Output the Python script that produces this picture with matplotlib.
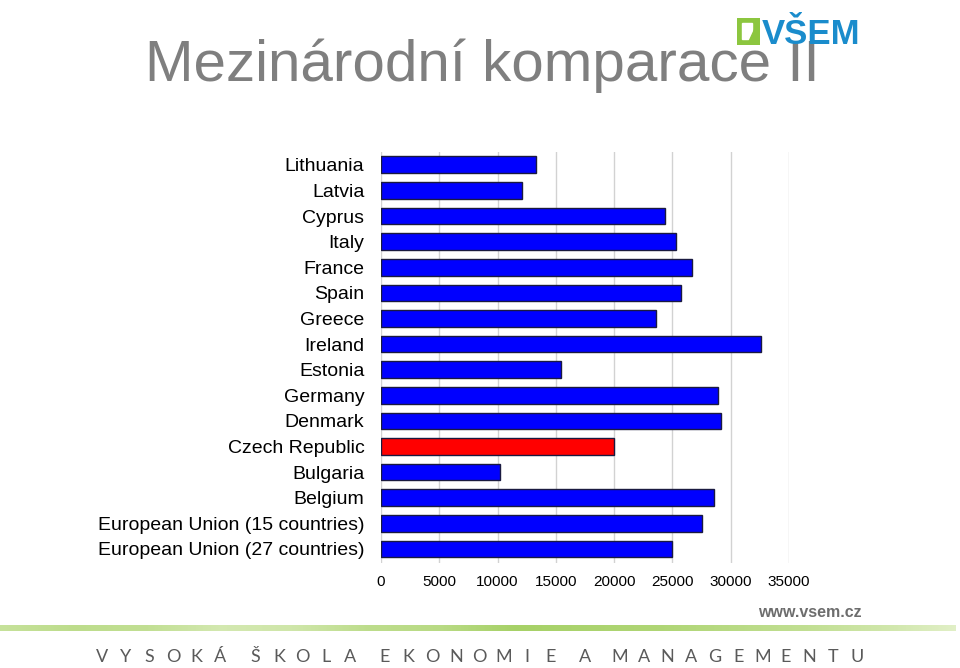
import matplotlib
matplotlib.use("Agg")
import matplotlib.pyplot as plt
import numpy as np
from matplotlib.patches import Rectangle, Polygon
from matplotlib.colors import LinearSegmentedColormap

plt.rcParams['font.family'] = ['Liberation Sans', 'DejaVu Sans']

countries = [
    "Lithuania", "Latvia", "Cyprus", "Italy", "France", "Spain", "Greece",
    "Ireland", "Estonia", "Germany", "Denmark", "Czech Republic", "Bulgaria",
    "Belgium", "European Union (15 countries)", "European Union (27 countries)",
]
values = [13300, 12100, 24400, 25300, 26700, 25700, 23600, 32600, 15400,
          28900, 29200, 20000, 10200, 28600, 27500, 25000]
highlight = "Czech Republic"
xticks = [0, 5000, 10000, 15000, 20000, 25000, 30000, 35000]
footer_words = ["VYSOKÁ", "ŠKOLA", "EKONOMIE", "A", "MANAGEMENTU"]

fig = plt.figure(figsize=(9.6, 6.68), dpi=100)
fig.patch.set_facecolor("white")

ax = fig.add_axes([381/960, 1-563/668, (789-381)/960, (563-152)/668])
colors = ["#ff0000" if c == highlight else "#0000ff" for c in countries]
y = np.arange(len(countries))
ax.barh(y, values, height=0.65, color=colors, edgecolor="#1a1a40", linewidth=1.0, zorder=3)
ax.set_ylim(len(countries) - 0.45, -0.5)
ax.set_xlim(0, 35000)
ax.set_yticks(y)
ax.set_yticklabels(countries, fontsize=14)
ax.set_xticks(xticks)
ax.set_xticklabels([str(t) for t in xticks], fontsize=11)
ax.tick_params(axis="both", length=0, colors="#000000")
ax.tick_params(axis="y", pad=12)
ax.tick_params(axis="x", pad=9)
ax.grid(axis="x", color="#d2d2d2", linewidth=1, zorder=0)
for s in ax.spines.values():
    s.set_visible(False)

# Title
fig.text(145/960, 1-81/668, "Mezinárodní komparace II", fontsize=42, color="#7f7f7f",
         ha="left", va="baseline")

# Logo
fig.text(762/960, 1-44/668, "VŠEM", fontsize=25, fontweight="bold", color="#1a8ccc",
         ha="left", va="baseline")
logo_ax = fig.add_axes([737/960, 1-45/668, 23/960, 27/668])
logo_ax.set_xlim(0, 1); logo_ax.set_ylim(0, 1); logo_ax.axis("off")
logo_ax.add_patch(Rectangle((0, 0), 1, 1, color="#8cc63f"))
logo_ax.add_patch(Rectangle((0.2, 0.22), 0.45, 0.58, color="white"))
logo_ax.add_patch(Polygon([[0.45, 0.0], [0.7, 0.0], [1.0, 0.55], [0.75, 0.55]], color="#8cc63f"))

# Footer
fig.text(862/960, 1-617/668, "www.vsem.cz", fontsize=11.5, fontweight="bold", color="#6d6d6d",
         ha="right", va="baseline")
grad_ax = fig.add_axes([0, 1-631/668, 0.995, 6/668])
grad_ax.axis("off")
g = np.array([0.45, 0.55, 0.5, 0.3, 0.35, 0.55, 0.6, 0.8, 0.75, 0.7, 0.6, 0.5, 0.35, 0.15])
cm = LinearSegmentedColormap.from_list("g", ["#eef6dc", "#95c84a"])
xs = np.linspace(0, 1, 400)
vals = np.interp(xs, np.linspace(0, 1, len(g)), g)
grad_ax.imshow(vals[None, :], aspect="auto", cmap=cm, vmin=0, vmax=1, extent=[0, 1, 0, 1])

i = 0
for w_idx, word in enumerate(footer_words):
    for ch in word:
        xpx = 102 + 23.7 * i + 11 * w_idx
        fig.text(xpx/960, 1-662/668, ch, fontsize=13, color="#5a5a5a",
                 family=["Lato", "DejaVu Sans"],
                 ha="center", va="baseline")
        i += 1

fig.savefig("out.png", dpi=100)
